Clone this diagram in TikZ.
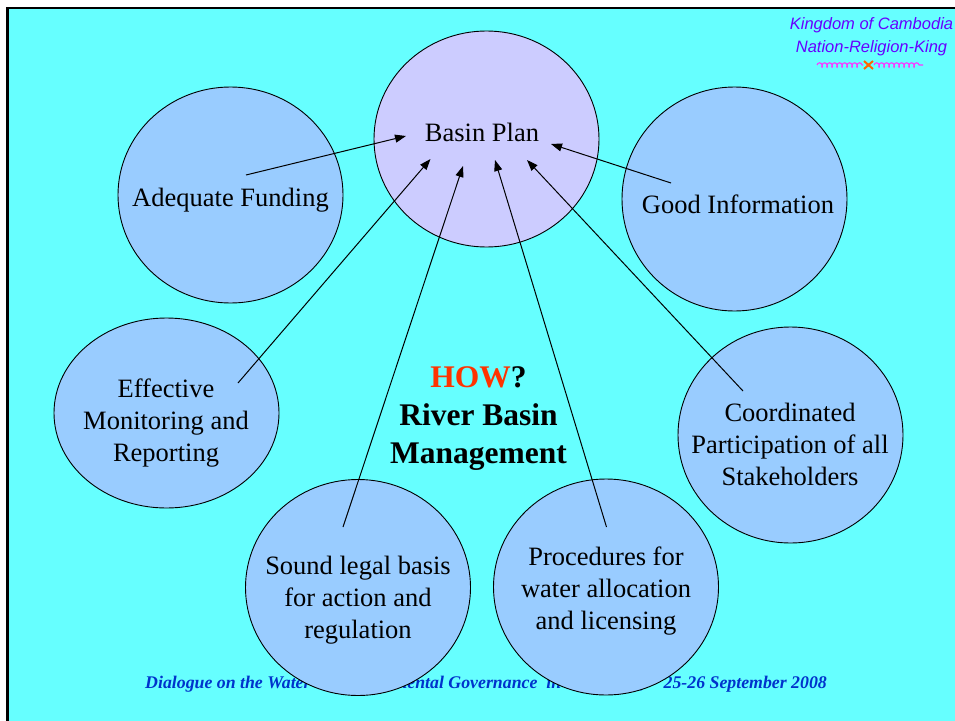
\documentclass[tikz,border=0pt]{standalone}
\usepackage{fontspec}
\setmainfont{Liberation Serif}
\newfontfamily\sansf{Liberation Sans}
\usetikzlibrary{arrows.meta,shapes.geometric,decorations.pathmorphing}
\definecolor{bgcyan}{HTML}{66FFFF}
\definecolor{topicfill}{HTML}{99CCFF}
\definecolor{planfill}{HTML}{CCCCFF}
\definecolor{howred}{HTML}{FF3300}
\definecolor{kingpurple}{HTML}{6600FF}
\definecolor{footblue}{HTML}{0033CC}
\definecolor{ornpink}{HTML}{FF33FF}
\definecolor{ornorange}{HTML}{FF6600}
\begin{document}
\begin{tikzpicture}[x=1pt,y=-1pt,
 bubble/.style={ellipse, draw=black, line width=0.9pt, fill=topicfill, minimum width=225pt, minimum height=216pt, inner sep=0pt},
 bubtext/.style={font=\fontsize{26.5}{32}\selectfont, align=center, anchor=base, inner sep=0pt},
 link/.style={line width=1pt, -{Triangle[length=11pt,width=8pt]}},
 orn/.style={ornpink, line width=1.1pt, decorate, decoration={coil,aspect=0.6,segment length=5pt,amplitude=2.2pt}},
 foottext/.style={font=\bfseries\itshape\fontsize{17.8}{22}\selectfont, text=footblue, inner sep=0pt}
]
\useasboundingbox (0,0) rectangle (955,720);
\fill[white] (0,0) rectangle (955,720);
\draw[fill=bgcyan, line width=2.7pt] (7.3,8) rectangle (975,740);

% header
\node[font=\sansf\itshape\fontsize{16.5}{23}\selectfont, text=kingpurple, align=center, anchor=base, inner sep=0pt] (king) at (871.5,52) {Kingdom of Cambodia\\Nation-Religion-King};
\draw[orn] (817,65) -- (863,65);
\draw[orn] (874,65) -- (923,65);
\draw[ornorange, line width=2pt] (864,61) -- (873,69) (864,69) -- (873,61);

% footer
\node[foottext, anchor=base west] (foot) at (145,688) {Dialogue on the Water \& Environmental Governance~~in Cambodia,};
\node[foottext, anchor=base east] (footdate) at (827,688) {25-26 September 2008};

% bubbles
\node[bubble, fill=planfill] (plan) at (486.5,139) {};
\node[bubble] (fund) at (230.5,195) {};
\node[bubble, minimum height=224pt] (info) at (734.5,199) {};
\node[bubble, minimum height=190pt] (moni) at (166.5,413) {};
\node[bubble] (coor) at (790.5,435) {};
\node[bubble] (legal) at (358,587.5) {};
\node[bubble] (proc) at (606,587) {};

% texts
\node[bubtext] (planT) at (482,141.7) {Basin Plan};
\node[bubtext] (fundT) at (230.5,206) {Adequate Funding};
\node[bubtext] (infoT) at (738,213) {Good Information};
\node[bubtext] (moniT) at (166,461.7) {Effective\\Monitoring and\\Reporting};
\node[bubtext] (coorT) at (790,485.7) {Coordinated\\Participation of all\\Stakeholders};
\node[bubtext] (legalT) at (358,638) {Sound legal basis\\for action and\\regulation};
\node[bubtext] (procT) at (606,629) {Procedures for\\water allocation\\and licensing};
\node[font=\bfseries\fontsize{31.5}{38}\selectfont, align=center, anchor=base, inner sep=0pt] (how) at (478.5,463.5) {\textcolor{howred}{HOW}?\\River Basin\\Management};

% connectors
\coordinate (fundS) at (246,175);  \coordinate (fundE) at (406,136);
\coordinate (moniS) at (238,383);  \coordinate (moniE) at (430.5,159);
\coordinate (legalS) at (343,527); \coordinate (legalE) at (463,166);
\coordinate (procS) at (606.5,527); \coordinate (procE) at (495,160);
\coordinate (coorS) at (743,391);  \coordinate (coorE) at (527,160);
\coordinate (infoS) at (671,183);  \coordinate (infoE) at (551,144);
\draw[link] (fundS) -- (fundE);
\draw[link] (moniS) -- (moniE);
\draw[link] (legalS) -- (legalE);
\draw[link] (procS) -- (procE);
\draw[link] (coorS) -- (coorE);
\draw[link] (infoS) -- (infoE);
\end{tikzpicture}
\end{document}
